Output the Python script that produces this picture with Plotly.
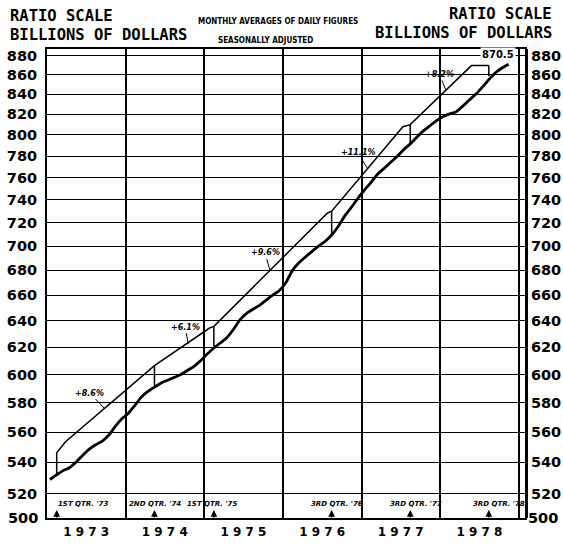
import plotly.graph_objects as go
import math

# ---------------- data ----------------
# monthly averages of daily figures, seasonally adjusted (billions of dollars), Jan 1973 - Nov 1978
money_months = [f"{y}-{m:02d}-15" for y in range(1973, 1979) for m in range(1, 13)][:71]
money_values = [
    529, 532, 534.5, 536.5, 540, 544.5, 548.5, 551.5, 554, 558, 564, 569,          # 1973
    573, 578.5, 584, 588, 591, 594, 596, 598, 600, 603, 606, 610,                   # 1974
    615, 619.5, 623, 627, 633, 640.5, 645.5, 649, 652, 656, 660, 663.5,             # 1975
    670, 680, 686, 691, 695.5, 700, 704, 709.5, 717, 726, 733.5, 741.5,             # 1976
    749, 756, 763, 768.5, 774, 779.5, 786, 791.5, 798, 804, 809, 814,               # 1977
    818, 820.5, 822.5, 828, 834, 840, 847, 855, 862, 867, 871,                      # 1978
]

# trend (growth-rate) line, drawn offset above the series
trend_dates = ["1973-02-15", "1973-02-15", "1973-03-28", "1974-05-15", "1975-01-26", "1975-02-15",
               "1976-07-27", "1976-08-15", "1977-07-12", "1977-08-15", "1978-05-26", "1978-08-15"]
trend_values = [532.6, 546.3, 553.5, 606.5, 634.5, 635.8, 728.5, 730, 808, 810, 869.5, 869.5]

# vertical connectors at base quarters (series value -> trend line)
conn_dates = ["1974-05-15", "1974-05-15", None, "1975-02-15", "1975-02-15", None,
              "1976-08-15", "1976-08-15", None, "1977-08-15", "1977-08-15", None,
              "1978-08-15", "1978-08-15"]
conn_values = [592, 606.5, None, 620.7, 635.8, None, 710, 730, None, 790.4, 810, None, 858.5, 869.5]

# growth-rate labels and the point on the trend line they refer to
rate_labels = ["+8.6%", "+6.1%", "+9.6%", "+11.1%", "+8.2%"]
rate_dates = ["1973-09-27", "1974-10-19", "1975-11-03", "1977-01-30", "1978-01-26"]
rate_values = [575.7, 622.3, 679.6, 768, 845]

# base quarters
quarter_labels = ["1ST QTR. '73", "2ND QTR. '74", "1ST QTR. '75", "3RD QTR. '76", "3RD QTR. '77", "3RD QTR. '78"]
quarter_dates = ["1973-02-15", "1974-05-15", "1975-02-15", "1976-08-15", "1977-08-15", "1978-08-15"]
quarter_label_dates = ["1973-06-17", "1974-05-18", "1975-02-06", "1976-09-09", "1977-09-09", "1978-10-01"]

latest_label = "870.5"

y_ticks = [520, 540, 560, 580, 600, 620, 640, 660, 680, 700, 720, 740, 760, 780, 800, 820, 840, 860, 880]
year_labels = ["1973", "1974", "1975", "1976", "1977", "1978"]
year_label_dates = ["1973-07-02", "1974-07-02", "1975-07-02", "1976-07-02", "1977-07-02", "1978-07-02"]

# ---------------- figure ----------------
W, H = 563, 546
L, R, T, B = 47, 38, 49, 28
yr = [math.log10(505.1), math.log10(887)]
xr = ["1973-01-01", "1979-01-30"]

fig = go.Figure()
fig.add_trace(go.Scatter(x=money_months, y=money_values, mode="lines",
                         line=dict(color="black", width=2.8, shape="spline", smoothing=0.6),
                         hoverinfo="skip", showlegend=False))
fig.add_trace(go.Scatter(x=trend_dates, y=trend_values, mode="lines",
                         line=dict(color="black", width=1.5), hoverinfo="skip", showlegend=False))
fig.add_trace(go.Scatter(x=conn_dates, y=conn_values, mode="lines", connectgaps=False,
                         line=dict(color="black", width=1.5), hoverinfo="skip", showlegend=False))
# invisible trace so the right axis is drawn
fig.add_trace(go.Scatter(x=money_months[:1], y=money_values[:1], yaxis="y2", mode="markers",
                         marker=dict(opacity=0), hoverinfo="skip", showlegend=False))

tickfont = dict(family="DejaVu Sans", size=14.5, color="black", weight="bold")

fig.update_layout(
    template="none",
    width=W, height=H, margin=dict(l=L, r=R, t=T, b=B, autoexpand=False),
    paper_bgcolor="white", plot_bgcolor="white",
    xaxis=dict(type="date", range=xr, tickmode="array", tickvals=year_label_dates,
               ticktext=[" ".join(s) for s in year_labels],
               tickfont=dict(family="DejaVu Sans", size=12, color="black", weight="bold"),
               showgrid=False, ticks="", ticklabelstandoff=2,
               showline=True, linecolor="black", linewidth=2, mirror=True,
               minor=dict(tickmode="linear", tick0="1973-01-01", dtick="M12", showgrid=True,
                          gridcolor="black", gridwidth=1.5, ticks=""),
               zeroline=False, fixedrange=True, automargin=False),
    yaxis=dict(type="log", range=yr, tickmode="array", tickvals=y_ticks,
               ticktext=[str(v) for v in y_ticks], tickfont=tickfont,
               showgrid=True, gridcolor="black", gridwidth=1.4, ticks="", ticklabelstandoff=5,
               showline=True, linecolor="black", linewidth=2, mirror=True,
               zeroline=False, fixedrange=True, automargin=False),
    yaxis2=dict(type="log", range=yr, overlaying="y", side="right", tickmode="array",
                tickvals=y_ticks, ticktext=[str(v) for v in y_ticks], tickfont=tickfont,
                showgrid=False, ticks="", ticklabelstandoff=0,
                showline=True, linecolor="black", linewidth=3,
                zeroline=False, fixedrange=True, automargin=False),
)

def px_to_paper_x(px):
    return (px - L) / (W - L - R)

def px_to_paper_y(py):
    return (H - B - py) / (H - T - B)

mono = "DejaVu Sans Mono"
ann = []
# headings
ann.append(dict(text="RATIO SCALE", x=px_to_paper_x(8), y=px_to_paper_y(16), xanchor="left"))
ann.append(dict(text="BILLIONS OF DOLLARS", x=px_to_paper_x(8), y=px_to_paper_y(35), xanchor="left"))
ann.append(dict(text="RATIO SCALE", x=px_to_paper_x(554), y=px_to_paper_y(14), xanchor="right"))
ann.append(dict(text="BILLIONS OF DOLLARS", x=px_to_paper_x(554), y=px_to_paper_y(33), xanchor="right"))
for a in ann:
    a.update(xref="paper", yref="paper", yanchor="middle", showarrow=False,
             font=dict(family=mono, size=15.5, color="black", weight="bold"))
ann.append(dict(text="MONTHLY AVERAGES OF DAILY FIGURES", x=px_to_paper_x(278), y=px_to_paper_y(22),
                xref="paper", yref="paper", showarrow=False, xanchor="center", yanchor="middle",
                font=dict(family="DejaVu Sans Condensed", size=8, color="black", weight="bold")))
ann.append(dict(text="SEASONALLY ADJUSTED", x=px_to_paper_x(265), y=px_to_paper_y(40),
                xref="paper", yref="paper", showarrow=False, xanchor="center", yanchor="middle",
                font=dict(family="DejaVu Sans Condensed", size=8, color="black", weight="bold")))
# 500 labels at the bottom border
ann.append(dict(text="500", x=px_to_paper_x(40), y=0, xref="paper", yref="paper", showarrow=False,
                xanchor="right", yanchor="middle", font=tickfont))
ann.append(dict(text="500", x=px_to_paper_x(526), y=0, xref="paper", yref="paper", showarrow=False,
                xanchor="left", yanchor="middle", font=tickfont))
# growth-rate labels with pointers
offsets = [(-15, -16), (-3, -17), (-5, -18), (-10, -16), (-6, -15)]
for lab, d, v, (axo, ayo) in zip(rate_labels, rate_dates, rate_values, offsets):
    ann.append(dict(text=lab, x=d, y=math.log10(v), xref="x", yref="y", showarrow=True,
                    arrowhead=0, arrowwidth=1, arrowcolor="black", ax=axo, ay=ayo, standoff=0,
                    font=dict(family="DejaVu Sans", size=8, color="black", weight="bold", style="italic")))
# latest value
ann.append(dict(text=latest_label, x="1978-09-25", y=px_to_paper_y(55), xref="x", yref="paper",
                showarrow=False, xanchor="center", yanchor="middle", bgcolor="white",
                font=dict(family="DejaVu Sans", size=10, color="black", weight="bold")))
# base-quarter labels and arrows
for lab, d in zip(quarter_labels, quarter_label_dates):
    ann.append(dict(text=lab, x=d, y=px_to_paper_y(504), xref="x", yref="paper", showarrow=False,
                    xanchor="center", yanchor="middle",
                    font=dict(family="DejaVu Sans", size=7, color="black", weight="bold", style="italic")))
for d in quarter_dates:
    ann.append(dict(text="", x=d, y=px_to_paper_y(510), xref="x", yref="paper", showarrow=True,
                    arrowhead=2, arrowsize=0.9, arrowwidth=1.5, arrowcolor="black",
                    ax=0, ay=9, standoff=0))

fig.update_layout(annotations=ann)
fig.write_html("out.html", config={"displayModeBar": False},
               post_script="document.body.style.margin='0';document.body.style.overflow='hidden';")
